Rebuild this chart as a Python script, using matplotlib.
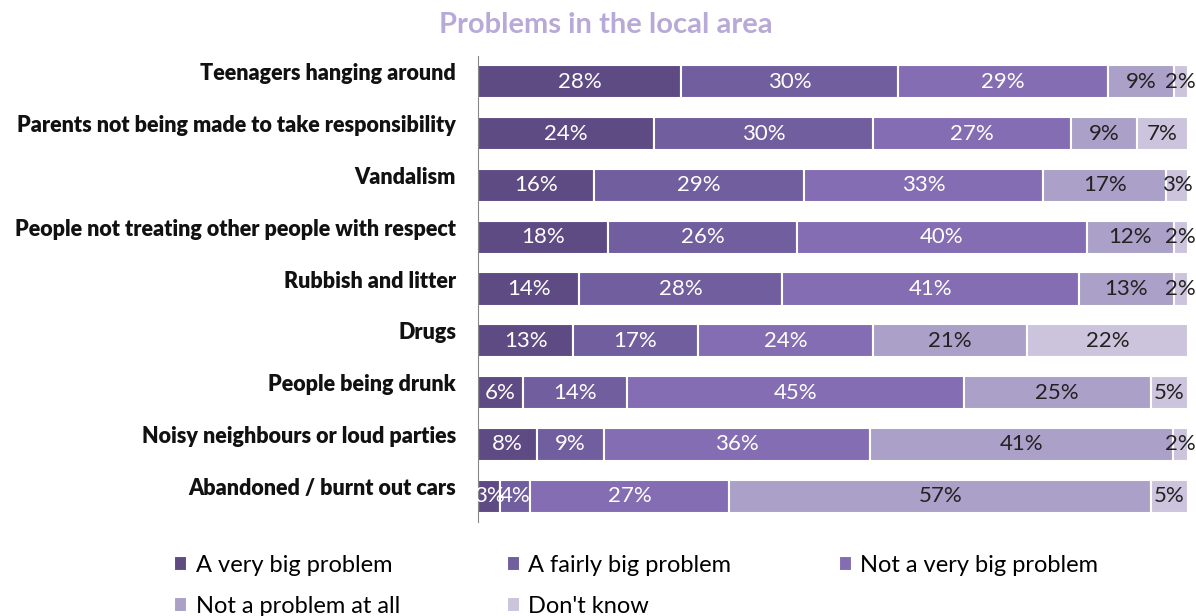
import matplotlib
matplotlib.use("Agg")
import matplotlib.pyplot as plt
import matplotlib.transforms as mtransforms
import numpy as np

plt.rcParams['font.family'] = ['Lato', 'DejaVu Sans']

categories = [
    "Teenagers hanging around",
    "Parents not being made to take responsibility",
    "Vandalism",
    "People not treating other people with respect",
    "Rubbish and litter",
    "Drugs",
    "People being drunk",
    "Noisy neighbours or loud parties",
    "Abandoned / burnt out cars",
]
series_names = ["A very big problem", "A fairly big problem", "Not a very big problem",
                "Not a problem at all", "Don't know"]
very_big = [28, 24, 16, 18, 14, 13, 6, 8, 3]
fairly_big = [30, 30, 29, 26, 28, 17, 14, 9, 4]
not_very_big = [29, 27, 33, 40, 41, 24, 45, 36, 27]
not_at_all = [9, 9, 17, 12, 13, 21, 25, 41, 57]
dont_know = [2, 7, 3, 2, 2, 22, 5, 2, 5]

colors = ["#5f4b84", "#715e9e", "#846db2", "#aaa0c8", "#cbc4dc"]
text_colors = ["white", "white", "white", "#222222", "#222222"]

series = [very_big, fairly_big, not_very_big, not_at_all, dont_know]
data = np.array(series, dtype=float)
totals = data.sum(axis=0)
norm = data / totals * 100

fig = plt.figure(figsize=(11.96, 6.16), dpi=100)
ax = fig.add_axes([478/1196, 1 - 522/616, (1188-478)/1196, (522-56)/616])

y = np.arange(len(categories))
left = np.zeros(len(categories))
for i, name in enumerate(series_names):
    ax.barh(y, norm[i], left=left, height=0.64, color=colors[i],
            edgecolor="white", linewidth=1.5, label=name)
    for j in range(len(categories)):
        ax.text(left[j] + norm[i][j] / 2, y[j], f"{int(series[i][j])}%",
                ha="center", va="center", fontsize=16, color=text_colors[i])
    left += norm[i]

ax.set_xlim(0, 100)
ax.set_ylim(len(categories) - 0.5, -0.5)
ax.set_yticks([])
ax.set_xticks([])
lab_tr = ax.get_yaxis_transform() + mtransforms.ScaledTranslation(-0.22, 0.08, fig.dpi_scale_trans)
for j, c in enumerate(categories):
    ax.text(0, y[j], c, transform=lab_tr, ha="right", va="center",
            fontsize=15.5, fontweight="heavy", color="#111111")
for s in ["top", "right", "bottom"]:
    ax.spines[s].set_visible(False)
ax.spines["left"].set_color("#888888")

fig.text(606/1196, 1 - 25/616, "Problems in the local area", ha="center", va="center",
         fontsize=21, fontweight="bold", color="#b8aad8")

handles, labels = ax.get_legend_handles_labels()
order = [0, 3, 1, 4, 2]
fig.legend([handles[k] for k in order], [labels[k] for k in order],
           loc="lower left", bbox_to_anchor=(153/1196, -0.036),
           ncol=3, frameon=False, fontsize=17, handlelength=0.55, handleheight=0.55,
           columnspacing=4.55, handletextpad=0.35, labelspacing=0.85)

fig.savefig("out.png", dpi=100)
